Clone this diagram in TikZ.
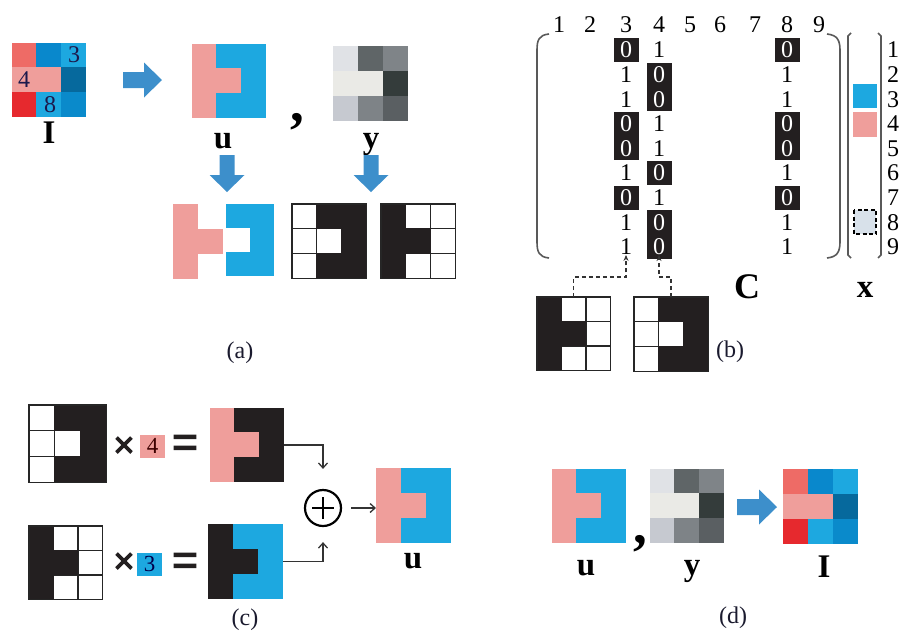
\documentclass[tikz,border=0pt]{standalone}
\usepackage{fontspec}
\setmainfont{Liberation Serif}
\newfontfamily\opheavy[FakeBold=3]{Liberation Sans}
\usetikzlibrary{arrows.meta,calc}

% image colours
\definecolor{cSal}{HTML}{EE6B66}
\definecolor{cBlu}{HTML}{0988CC}
\definecolor{cLbl}{HTML}{1DA8E0}
\definecolor{cPnk}{HTML}{EF9E9B}
\definecolor{cDbl}{HTML}{06699D}
\definecolor{cRed}{HTML}{E6292E}
\definecolor{cBlt}{HTML}{0A8ACB}
\definecolor{gA}{HTML}{E0E2E6}
\definecolor{gB}{HTML}{5F6567}
\definecolor{gC}{HTML}{7F8488}
\definecolor{gD}{HTML}{EAEAE6}
\definecolor{gE}{HTML}{343C3B}
\definecolor{gF}{HTML}{C6C9D0}
\definecolor{gG}{HTML}{7E8387}
\definecolor{gH}{HTML}{5A5F62}
\definecolor{cInk}{HTML}{231F20}
\definecolor{cMist}{HTML}{D8E1EA}
\definecolor{cArrow}{HTML}{3D8FCB}
\definecolor{cLine}{HTML}{333333}
\definecolor{cCap}{HTML}{1A1A2E}

\newcommand\fsz[1]{\fontsize{#1}{#1}\selectfont}

% coloured pixel image: name, x, y, cell, columns, colours (row-major)
\newcommand\pixgrid[6]{%
  \node[inner sep=0pt, outer sep=0pt, minimum width={#5*#4pt}, minimum height={3*#4pt}, anchor=north west] (#1) at (#2,#3) {};
  \foreach \cc [count=\ii from 0] in {#6} {
    \pgfmathtruncatemacro\rr{int(\ii/#5)}
    \pgfmathtruncatemacro\kk{mod(\ii,#5)}
    \fill[\cc] (#2+\kk*#4-0.25, #3+\rr*#4-0.25) rectangle ++(#4+0.5,#4+0.5);
  }
}

% binary mask with cell lines: name, x, y, cell, bits (row-major, 1 = black)
\newcommand\maskgrid[5]{%
  \node[inner sep=0pt, outer sep=0pt, minimum width={3*#4pt}, minimum height={3*#4pt}, anchor=north west, fill=white] (#1) at (#2,#3) {};
  \foreach \k in {1,2} {
    \draw[cellline] (#2+\k*#4,#3) -- ++(0,3*#4);
    \draw[cellline] (#2,#3+\k*#4) -- ++(3*#4,0);
  }
  \foreach \bb [count=\ii from 0] in {#5} {
    \pgfmathtruncatemacro\rr{int(\ii/3)}
    \pgfmathtruncatemacro\kk{mod(\ii,3)}
    \ifnum\bb=1
      \fill[cInk] (#2+\kk*#4-0.3, #3+\rr*#4-0.3) rectangle ++(#4+0.6,#4+0.6);
    \fi
  }
  \draw[cellline] (#1.north west) rectangle (#1.south east);
}

% block arrows
\newcommand\rarrow[3]{% x1, x2, yc
  \fill[cArrow] (#1,#3-8) -- (#2-18,#3-8) -- (#2-18,#3-17.5) -- (#2,#3) -- (#2-18,#3+17.5) -- (#2-18,#3+8) -- (#1,#3+8) -- cycle;
}
\newcommand\darrow[3]{% xc, y1, y2
  \fill[cArrow] (#1-7.5,#2) -- (#1-7.5,#3-17) -- (#1-17.5,#3-17) -- (#1,#3) -- (#1+17.5,#3-17) -- (#1+7.5,#3-17) -- (#1+7.5,#2) -- cycle;
}

\tikzset{
  cellline/.style={draw=black!85, line width=1.2pt},
  lab/.style={font=\fsz{33}\bfseries, inner sep=0pt, anchor=base},
  numlab/.style={font=\fsz{24}, inner sep=0pt, anchor=base},
  caplab/.style={font=\fsz{24}, text=cCap, inner sep=0pt},
  cellnum/.style={font=\fsz{24}, text=cInk!80!blue, inner sep=0pt},
  mdig/.style={font=\fsz{24}, inner sep=0pt},
  d0/.style={text=white},
  d1/.style={text=black},
  paren/.style={draw=black!65, line width=1.6pt},
  conn/.style={draw=cLine, line width=1.3pt, -{Straight Barb[length=5pt,width=9pt]}},
  dconn/.style={draw=cLine, line width=1.2pt, dash pattern=on 4pt off 3pt, -{Stealth[length=6pt,width=5pt]}},
  opsym/.style={font=\opheavy\fsz{36}, text=cInk, inner sep=0pt},
  eqsym/.style={font=\opheavy\fsz{44}, text=cInk, inner sep=0pt},
  coef/.style={font=\fsz{23}, inner sep=0pt, minimum width=25pt, minimum height=23pt},
  bigcomma/.style={font=\fsz{55}\bfseries, inner sep=0pt, anchor=base},
}

\begin{document}
\begin{tikzpicture}[x=1pt,y=-1pt]
\useasboundingbox (0,0) rectangle (899,638);

%% ---------------- (a) ----------------
\pixgrid{Ia}{12}{43}{24.7}{3}{cSal,cBlu,cLbl,cPnk,cPnk,cDbl,cRed,cLbl,cBlt}
\node[cellnum] (n3) at (74,55) {3};
\node[cellnum] (n4) at (24,80) {4};
\node[cellnum] (n8) at (50,105) {8};
\node[lab] (Ilab) at (49,143) {I};

\rarrow{123}{162}{80}

\pixgrid{ua}{192}{44}{24.7}{3}{cPnk,cLbl,cLbl,cPnk,cPnk,cLbl,cPnk,cLbl,cLbl}
\node[lab] (ulab) at (223,148) {u};
\node[bigcomma] (comma1) at (297,121) {,};
\pixgrid{ya}{333}{46}{25}{3}{gA,gB,gC,gD,gD,gE,gF,gG,gH}
\node[lab] (ylab) at (371,148) {y};

\darrow{227}{155}{192}
\darrow{371}{155}{192}

\pixgrid{pinkpart}{173}{204}{25}{2}{cPnk,white,cPnk,cPnk,cPnk,white}
\pixgrid{bluepart}{226}{204}{24}{2}{cLbl,cLbl,white,cLbl,cLbl,cLbl}
\maskgrid{ma1}{292}{204}{24.7}{0,1,1,0,0,1,0,1,1}
\maskgrid{ma2}{381}{204}{24.7}{1,0,0,1,1,0,1,0,0}

\node[caplab] (capa) at (240,353) {(a)};

%% ---------------- (b) ----------------
\foreach \cn/\cx in {1/559,2/590,3/626,4/659,5/690,6/720,7/755,8/787,9/819}
  \node[numlab] (col\cn) at (\cx,32) {\cn};

\draw[paren] (549,34) .. controls (539,35) and (537,40) .. (537,50) -- (537,242) .. controls (537,252) and (539,257) .. (549,258);
\draw[paren] (827,34) .. controls (837,35) and (840,40) .. (840,50) -- (840,242) .. controls (840,252) and (837,257) .. (827,258);

% black boxes behind the zeros
\foreach \cx/\ra/\rb in {626/1/1,626/4/5,626/7/7,659/2/3,659/6/6,659/8/9,787/1/1,787/4/5,787/7/7}
  \fill[cInk] (\cx-12.5, {50+(\ra-1)*24.6-12}) rectangle (\cx+12.5, {50+(\rb-1)*24.6+12});

\foreach \v [count=\r] in {0,1,1,0,0,1,0,1,1}
  \node[mdig, d\v] (m\r-3) at (626, {50+(\r-1)*24.6}) {\v};
\foreach \v [count=\r] in {1,0,0,1,1,0,1,0,0}
  \node[mdig, d\v] (m\r-4) at (659, {50+(\r-1)*24.6}) {\v};
\foreach \v [count=\r] in {0,1,1,0,0,1,0,1,1}
  \node[mdig, d\v] (m\r-8) at (787, {50+(\r-1)*24.6}) {\v};

% vector x
\draw[paren] (851,33) -- (848,36) -- (848,255) -- (851,258);
\draw[paren] (878,33) -- (881,36) -- (881,255) -- (878,258);
\fill[cLbl] (853,84) rectangle (877,108);
\fill[cPnk] (853,112) rectangle (877,137);
\filldraw[fill=cMist, draw=black, line width=1.5pt, dash pattern=on 4pt off 2.5pt] (854,210) rectangle (876,234);
\foreach \r in {1,...,9}
  \node[mdig, anchor=west] (xr\r) at (887, {50+(\r-1)*24.6}) {\r};

\node[lab, font=\fsz{36}\bfseries] (Clab) at (747,298) {C};
\node[lab] (xlab) at (865,297) {x};

\maskgrid{mbL}{537}{297}{24.5}{1,0,0,1,1,0,1,0,0}
\maskgrid{mbR}{634}{297}{24.7}{0,1,1,0,0,1,0,1,1}
\draw[dconn] (mbL.north) -- ++(0,-20) -| (m9-3.south);
\draw[dconn] (mbR.north) -- ++(0,-20) -| (m9-4.south);

\node[caplab] (capb) at (730,352) {(b)};

%% ---------------- (c) ----------------
\maskgrid{mcA}{29}{405}{25.7}{0,1,1,0,0,1,0,1,1}
\node[opsym] (timesA) at (124,447) {×};
\node[coef, fill=cPnk, text=black!60!red!60!black] (k4) at (152.5,446) {4};
\node[eqsym] (eqA) at (185,446) {=};
\pixgrid{rA}{210}{408}{24.7}{3}{cPnk,cInk,cInk,cPnk,cPnk,cInk,cPnk,cInk,cInk}

\maskgrid{mcB}{29}{526}{24.5}{1,0,0,1,1,0,1,0,0}
\node[opsym] (timesB) at (124,563) {×};
\node[coef, fill=cLbl, text=black!70!blue] (k3) at (149.5,564) {3};
\node[eqsym] (eqB) at (185,564) {=};
\pixgrid{rB}{208}{524}{25}{3}{cInk,cLbl,cLbl,cInk,cInk,cLbl,cInk,cLbl,cLbl}

\node[circle, draw=black, line width=2.2pt, minimum size=36pt, inner sep=0pt] (plus) at (323,508) {};
\draw[line width=2.4pt] ($(plus)+(-11,0)$) -- ($(plus)+(11,0)$);
\draw[line width=2.4pt] ($(plus)+(0,-11)$) -- ($(plus)+(0,11)$);

\pixgrid{uC}{376}{468}{25}{3}{cPnk,cLbl,cLbl,cPnk,cPnk,cLbl,cPnk,cLbl,cLbl}
\node[lab] (ulabC) at (413,568) {u};

\draw[conn, shorten >=20pt] (rA.east) -| (plus.north);
\draw[conn, shorten >=15pt] (rB.east) -| (plus.south);
\draw[conn, shorten <=9pt] (plus.east) -- (plus.east -| uC.west);

\node[caplab] (capc) at (245,620) {(c)};

%% ---------------- (d) ----------------
\pixgrid{uD}{552}{469}{24.5}{3}{cPnk,cLbl,cLbl,cPnk,cPnk,cLbl,cPnk,cLbl,cLbl}
\node[bigcomma] (comma2) at (640,543) {,};
\pixgrid{yD}{650}{469}{24.5}{3}{gA,gB,gC,gD,gD,gE,gF,gG,gH}
\rarrow{737}{777}{507}
\pixgrid{ID}{783}{469}{25}{3}{cSal,cBlu,cLbl,cPnk,cPnk,cDbl,cRed,cLbl,cBlt}
\node[lab] (ulabD) at (586,575) {u};
\node[lab] (ylabD) at (692,575) {y};
\node[lab] (IlabD) at (824,577) {I};

\node[caplab] (capd) at (733,618) {(d)};
\end{tikzpicture}
\end{document}
